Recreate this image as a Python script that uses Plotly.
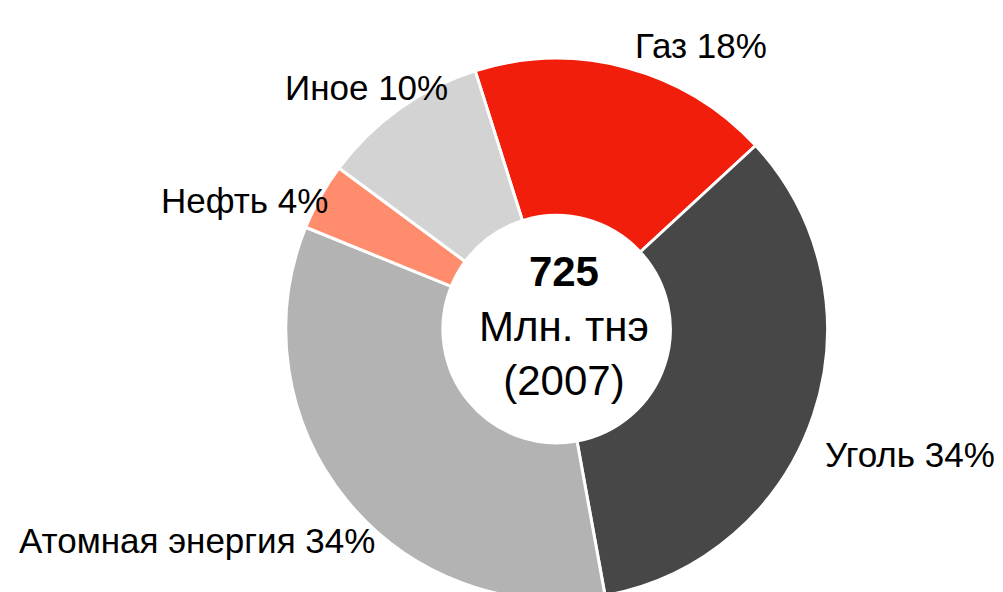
import plotly.graph_objects as go

labels = ["Газ", "Уголь", "Атомная энергия", "Нефть", "Иное"]
values = [18, 34, 34, 4, 10]
colors = ["#F21E0C", "#474747", "#B3B3B3", "#FF8C6C", "#D3D3D3"]
center_total = "725"
center_unit = "Млн. тнэ"
center_year = "(2007)"

# label anchor positions (paper coords), one per slice
label_pos = [(0.691, 0.937), (0.899, 0.245), (0.188, 0.100), (0.236, 0.674), (0.357, 0.865)]

FONT = "Liberation Sans Narrow, Arial Narrow, Liberation Sans, Arial, sans-serif"

fig = go.Figure(go.Pie(
    labels=labels,
    values=values,
    sort=False,
    direction="clockwise",
    rotation=-17.5,
    hole=0.42,
    marker=dict(colors=colors, line=dict(color="white", width=3)),
    textinfo="none",
    hoverinfo="label+percent",
    domain=dict(x=[0.242, 0.852], y=[0.0, 0.915]),
    showlegend=False,
))

total = sum(values)
annotations = []
for lab, v, (x, y) in zip(labels, values, label_pos):
    annotations.append(dict(
        x=x, y=y, xref="paper", yref="paper",
        text=f"{lab} {round(100 * v / total)}%",
        showarrow=False, xanchor="center", yanchor="middle",
        font=dict(family=FONT, size=35, color="black"),
    ))
annotations.append(dict(
    x=0.554, y=1 - 318 / 592, xref="paper", yref="paper",
    text=f"<b>{center_total}</b><br>{center_unit}<br>{center_year}",
    showarrow=False, xanchor="center", yanchor="middle",
    font=dict(family=FONT, size=42, color="black"),
))

fig.update_layout(
    width=1003, height=592,
    margin=dict(l=0, r=0, t=0, b=0),
    paper_bgcolor="white", plot_bgcolor="white",
    annotations=annotations,
)

fig.write_html("out.html")
